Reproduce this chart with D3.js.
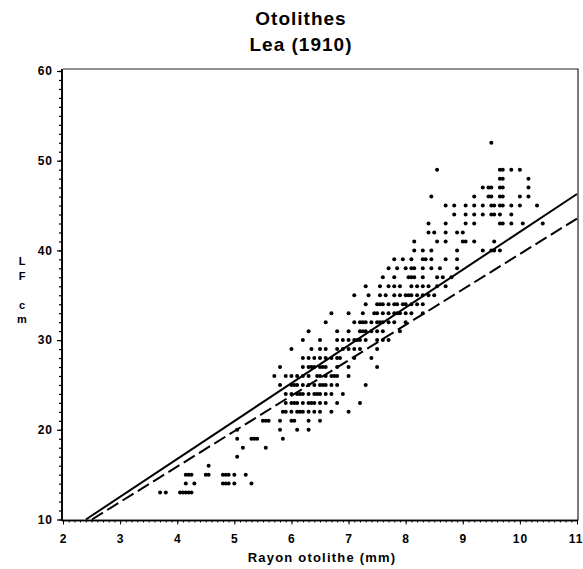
<!DOCTYPE html>
<html>
<head>
<meta charset="utf-8">
<script src="https://cdn.jsdelivr.net/npm/d3@7"></script>
<style>
    body { margin: 0; background: #fff; }
    text { font-family: "Liberation Sans", Arial, sans-serif; font-weight: bold; fill: #000; }
</style>
</head>
<body>
<div id="chart"></div>
<script>
/// //////////////////////////////////////////////////////////////////
// Chart data
/// //////////////////////////////////////////////////////////////////
const chartTitle = ["Otolithes", "Lea (1910)"];
const xLabel = "Rayon otolithe (mm)";
const yLabelLetters = ["L", "F", "", "c", "m"];
const xTicks = [2, 3, 4, 5, 6, 7, 8, 9, 10, 11];
const yTicks = [10, 20, 30, 40, 50, 60];

// fork length (cm) levels, and the otolith radius (mm) of each fish at that level
const lfLevels = [13, 14, 15, 16, 17, 18, 19, 20, 21, 22, 23, 24, 25, 26, 27, 28, 29, 30,
    31, 32, 33, 34, 35, 36, 37, 38, 39, 40, 41, 42, 43, 44, 45, 46, 47, 48, 49, 52];
const rayonAtLevel = [
    [3.7, 3.8, 4.05, 4.1, 4.15, 4.2, 4.25],
    [4.15, 4.3, 4.8, 4.85, 4.9, 5.0, 5.3],
    [4.15, 4.2, 4.25, 4.5, 4.55, 4.8, 4.85, 4.9, 5.0, 5.2],
    [4.55],
    [5.05],
    [5.15, 5.55],
    [5.05, 5.3, 5.35, 5.4, 5.85],
    [5.05, 5.8, 6.1, 6.3],
    [5.5, 5.55, 5.6, 5.8, 6.0, 6.05, 6.3, 6.5],
    [5.85, 5.9, 6.0, 6.1, 6.15, 6.2, 6.3, 6.4, 6.5, 6.7, 7.0],
    [5.9, 6.0, 6.05, 6.1, 6.2, 6.3, 6.35, 6.4, 6.5, 6.6, 6.8, 7.2],
    [5.9, 6.0, 6.1, 6.15, 6.2, 6.3, 6.4, 6.45, 6.5, 6.6, 6.7, 6.9],
    [5.8, 6.0, 6.05, 6.1, 6.2, 6.3, 6.4, 6.5, 6.55, 6.6, 6.7, 6.8, 7.3],
    [5.7, 5.9, 6.0, 6.1, 6.2, 6.3, 6.45, 6.5, 6.6, 6.7, 6.75, 6.8, 7.0],
    [5.8, 6.2, 6.3, 6.35, 6.4, 6.5, 6.55, 6.6, 6.8, 7.0, 7.5],
    [6.2, 6.3, 6.4, 6.5, 6.6, 6.7, 6.8, 6.85, 7.1, 7.4],
    [6.0, 6.35, 6.5, 6.6, 6.8, 6.9, 7.0, 7.1, 7.2, 7.5],
    [6.2, 6.5, 6.8, 6.9, 7.0, 7.1, 7.15, 7.2, 7.3, 7.5, 7.6, 7.7],
    [6.3, 6.8, 7.0, 7.2, 7.25, 7.3, 7.4, 7.5, 7.6, 7.9],
    [6.6, 7.1, 7.2, 7.25, 7.3, 7.4, 7.5, 7.55, 7.6, 7.7, 7.8, 8.0],
    [6.7, 7.0, 7.25, 7.45, 7.5, 7.6, 7.7, 7.8, 7.85, 7.9, 8.0, 8.1, 8.3],
    [7.3, 7.5, 7.55, 7.6, 7.7, 7.8, 7.85, 7.95, 8.0, 8.1, 8.2, 8.3],
    [7.1, 7.35, 7.55, 7.65, 7.8, 7.9, 8.0, 8.05, 8.1, 8.2, 8.3, 8.4, 8.5],
    [7.3, 7.55, 7.7, 7.8, 7.9, 8.1, 8.2, 8.3, 8.4, 8.55, 8.7],
    [7.6, 7.8, 8.05, 8.1, 8.15, 8.3, 8.55, 8.65, 8.8],
    [7.7, 7.85, 8.0, 8.1, 8.15, 8.3, 8.45, 8.6, 8.9],
    [7.8, 7.95, 8.1, 8.3, 8.35, 8.45, 8.7, 8.9],
    [8.15, 8.3, 8.45, 8.9, 9.35, 9.5, 9.55, 9.65],
    [8.15, 8.55, 8.7, 9.0, 9.05, 9.2, 9.55],
    [8.4, 8.5, 8.7, 8.9, 9.0],
    [8.4, 8.7, 9.05, 9.2, 9.65, 9.7, 9.85, 10.05, 10.4],
    [8.85, 9.05, 9.2, 9.35, 9.5, 9.55, 9.65, 9.85],
    [8.7, 8.85, 9.05, 9.2, 9.35, 9.5, 9.55, 9.65, 9.7, 9.85, 10.0, 10.3],
    [8.45, 9.2, 9.45, 9.5, 9.65, 9.7, 10.0, 10.15],
    [9.35, 9.45, 9.5, 9.65, 9.7, 10.15],
    [9.65, 9.7, 10.15],
    [8.55, 9.65, 9.7, 9.85, 10.0],
    [9.5]
];

// the two fitted lines: [intercept, slope]
const fitSolid = [-0.13, 4.22];
const fitDashed = [0.1, 3.95];

/// //////////////////////////////////////////////////////////////////
// Drawing
/// //////////////////////////////////////////////////////////////////
const width = 583;
const height = 569;

const x = d3.scaleLinear().domain([2, 11]).range([63, 577]);
const y = d3.scaleLinear().domain([10, 60]).range([519.5, 71]);

const svg = d3.select("#chart")
    .append("svg")
    .attr("width", width)
    .attr("height", height);

// titles
svg.selectAll(".title")
    .data(chartTitle)
    .enter().append("text")
    .attr("class", "title")
    .attr("x", 301)
    .attr("y", (d, i) => 25 + i * 26)
    .attr("text-anchor", "middle")
    .style("font-size", "19px")
    .style("letter-spacing", "1px")
    .text((d) => d);

// frame (top and right)
svg.append("path")
    .attr("d", `M${x(2)},${y(60) - 2}H${x(11) + 1}V${y(10) + 1}`)
    .attr("fill", "none")
    .attr("stroke", "#222")
    .attr("stroke-width", 1.2);

// left axis: minor ticks every cm, labels every 10
const yMinor = d3.axisLeft(y).tickValues(d3.range(10, 61, 1)).tickSize(3).tickFormat("");
const yMajor = d3.axisLeft(y).tickValues(yTicks).tickSize(5).tickPadding(4);

const gyMinor = svg.append("g").attr("transform", `translate(${x(2) - 1},0)`).call(yMinor);
const gy = svg.append("g").attr("transform", `translate(${x(2) - 1},0)`).call(yMajor);
[gyMinor, gy].forEach((g) => {
    g.select(".domain").attr("stroke-width", 1.6).attr("d", `M0,${y(60) - 2}V${y(10) + 1}`);
    g.selectAll(".tick line").attr("stroke-width", 1.2);
});
gy.selectAll(".tick text")
    .style("font-size", "12px")
    .style("letter-spacing", "1px")
    .style("font-family", "'Liberation Sans', Arial, sans-serif")
    .style("font-weight", "bold");

// bottom axis
const xMinor = d3.axisBottom(x).tickValues(d3.range(20, 111, 1).map((v) => v / 10)).tickSize(2).tickFormat("");
const xMajor = d3.axisBottom(x).tickValues(xTicks).tickSize(4).tickPadding(10).tickFormat(d3.format("d"));

const gxMinor = svg.append("g").attr("transform", `translate(0,${y(10) + 1})`).call(xMinor);
const gx = svg.append("g").attr("transform", `translate(0,${y(10) + 1})`).call(xMajor);
[gxMinor, gx].forEach((g) => {
    g.select(".domain").attr("stroke-width", 1.6).attr("d", `M${x(2) - 1},0H${x(11) + 1}`);
    g.selectAll(".tick line").attr("stroke-width", 1);
});
gx.selectAll(".tick text")
    .style("font-size", "12px")
    .style("letter-spacing", "1px")
    .style("font-family", "'Liberation Sans', Arial, sans-serif")
    .style("font-weight", "bold");
// keep the last label inside the window
gx.selectAll(".tick text")
    .filter((d) => d === 11)
    .attr("text-anchor", "end")
    .attr("dx", "6");

// axis labels
svg.append("text")
    .attr("x", 322)
    .attr("y", 562)
    .attr("text-anchor", "middle")
    .style("font-size", "13px")
    .style("letter-spacing", "1.2px")
    .text(xLabel);

svg.selectAll(".ylab")
    .data(yLabelLetters)
    .enter().append("text")
    .attr("class", "ylab")
    .attr("x", 22)
    .attr("y", (d, i) => 265 + i * 14.5)
    .attr("text-anchor", "middle")
    .style("font-size", "11px")
    .text((d) => d);

// fitted lines
const line = d3.line().x((d) => x(d[0])).y((d) => y(d[1]));
function fitPoints(fit) {
    const r0 = (10 - fit[0]) / fit[1];
    return [[r0, 10], [11, fit[0] + fit[1] * 11]];
}

svg.append("path")
    .attr("d", line(fitPoints(fitSolid)))
    .attr("fill", "none")
    .attr("stroke", "#000")
    .attr("stroke-width", 2);

svg.append("path")
    .attr("d", line(fitPoints(fitDashed)))
    .attr("fill", "none")
    .attr("stroke", "#000")
    .attr("stroke-width", 2)
    .attr("stroke-dasharray", "13,5");

// fish points
const points = [];
lfLevels.forEach((lf, i) => {
    rayonAtLevel[i].forEach((r) => points.push({ r, lf }));
});

svg.append("g")
    .selectAll("circle")
    .data(points)
    .enter().append("circle")
    .attr("cx", (d) => x(d.r))
    .attr("cy", (d) => y(d.lf))
    .attr("r", 2)
    .attr("fill", "#000");
</script>
</body>
</html>
